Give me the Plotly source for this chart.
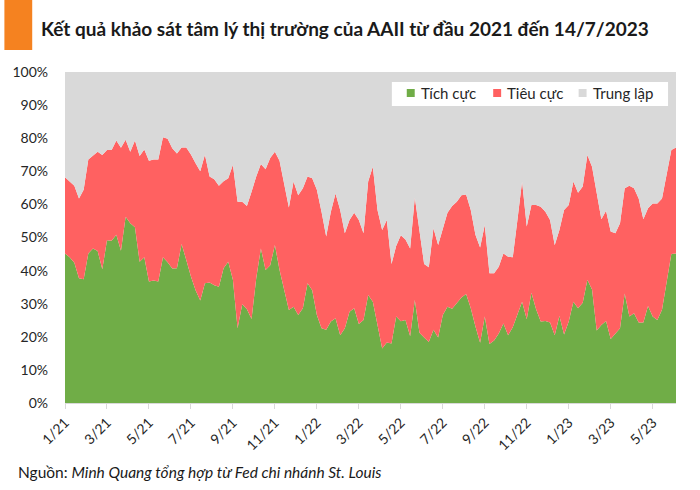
import pandas as pd
import plotly.graph_objects as go

# tuần khảo sát AAII (thứ Năm), 7/1/2021 -> 13/7/2023
weeks = pd.date_range("2021-01-07", periods=132, freq="7D").strftime("%Y-%m-%d").tolist()

tick_labels = ["1/21", "3/21", "5/21", "7/21", "9/21", "11/21", "1/22", "3/22",
               "5/22", "7/22", "9/22", "11/22", "1/23", "3/23", "5/23"]

bullish = [45.2, 44.0, 42.4, 37.7, 37.4, 45.2, 46.7, 45.9, 40.4, 49.2, 49.0, 50.8,
           46.0, 56.3, 54.3, 53.1, 42.7, 44.0, 36.7, 37.0, 36.7, 44.0, 42.5, 40.6,
           40.7, 48.0, 43.2, 38.2, 34.1, 31.0, 36.2, 36.4, 35.6, 35.1, 40.7, 42.7,
           37.2, 22.6, 29.8, 28.3, 25.4, 37.7, 46.7, 40.2, 41.6, 47.7, 40.2, 33.9,
           28.1, 29.1, 26.6, 28.6, 36.2, 34.1, 26.6, 22.6, 22.1, 24.6, 25.6, 20.5,
           22.6, 27.6, 28.6, 23.9, 25.1, 32.6, 30.6, 23.6, 16.5, 18.3, 18.0, 26.1,
           24.7, 25.1, 20.2, 31.1, 21.2, 19.8, 18.4, 22.1, 19.8, 26.6, 29.1, 28.5,
           30.3, 31.9, 32.9, 28.6, 23.1, 18.2, 26.1, 17.8, 18.9, 21.0, 24.0, 20.5,
           22.9, 27.1, 30.6, 25.3, 33.3, 28.3, 24.6, 24.8, 24.3, 20.5, 26.3, 20.7,
           24.6, 30.6, 28.6, 30.3, 37.2, 34.3, 21.9, 23.6, 24.8, 19.3, 21.0, 22.6,
           33.1, 26.1, 27.1, 24.3, 24.3, 29.3, 26.1, 25.1, 28.2, 37.2, 45.0, 45.2]

bearish = [23.0, 22.9, 23.2, 24.1, 27.0, 28.4, 28.1, 30.0, 34.5, 27.2, 27.4, 28.5,
           31.1, 23.2, 21.6, 26.2, 31.9, 32.6, 36.5, 36.6, 36.9, 36.3, 37.3, 36.4,
           34.7, 29.2, 34.0, 36.9, 38.3, 39.0, 38.8, 32.0, 32.0, 30.5, 26.3, 25.2,
           34.8, 38.2, 31.0, 31.2, 38.4, 30.7, 25.5, 30.4, 32.4, 28.2, 33.0, 32.0,
           31.0, 37.8, 36.2, 36.3, 32.2, 33.8, 37.8, 35.2, 28.2, 33.2, 37.7, 37.8,
           28.7, 27.7, 28.9, 31.4, 26.2, 34.3, 40.8, 34.7, 35.8, 37.0, 24.0, 21.3,
           26.0, 24.3, 26.5, 31.0, 31.1, 22.2, 22.6, 30.7, 27.9, 26.2, 28.4, 31.0,
           30.5, 30.9, 30.1, 29.7, 27.7, 28.8, 27.7, 21.4, 20.3, 20.2, 21.2, 23.7,
           21.1, 28.2, 36.3, 28.0, 26.5, 31.5, 34.7, 33.0, 31.0, 27.2, 26.0, 37.6,
           35.2, 36.3, 34.9, 35.1, 37.7, 37.1, 41.9, 31.9, 33.3, 32.5, 30.3, 31.7,
           31.8, 39.5, 37.8, 37.5, 31.2, 29.5, 34.2, 35.2, 33.6, 32.2, 31.4, 32.0]

neutral = [31.8, 33.1, 34.4, 38.2, 35.6, 26.4, 25.2, 24.1, 25.1, 23.6, 23.6, 20.7,
           22.9, 20.5, 24.1, 20.7, 25.4, 23.4, 26.8, 26.4, 26.4, 19.7, 20.2, 23.0,
           24.6, 22.8, 22.8, 24.9, 27.6, 30.0, 25.0, 31.6, 32.4, 34.4, 33.0, 32.1,
           28.0, 39.2, 39.2, 40.5, 36.2, 31.6, 27.8, 29.4, 26.0, 24.1, 26.8, 34.1,
           40.9, 33.1, 37.2, 35.1, 31.6, 32.1, 35.6, 42.2, 49.7, 42.2, 36.7, 41.7,
           48.7, 44.7, 42.5, 44.7, 48.7, 33.1, 28.6, 41.7, 47.7, 44.7, 58.0, 52.6,
           49.3, 50.6, 53.3, 37.9, 47.7, 58.0, 59.0, 47.2, 52.3, 47.2, 42.5, 40.5,
           39.2, 37.2, 37.0, 41.7, 49.2, 53.0, 46.2, 60.8, 60.8, 58.8, 54.8, 55.8,
           56.0, 44.7, 33.1, 46.7, 40.2, 40.2, 40.7, 42.2, 44.7, 52.3, 47.7, 41.7,
           40.2, 33.1, 36.5, 34.6, 25.1, 28.6, 36.2, 44.5, 41.9, 48.2, 48.7, 45.7,
           35.1, 34.4, 35.1, 38.2, 44.5, 41.2, 39.7, 39.7, 38.2, 30.6, 23.6, 22.8]

series = [("Tích cực", bullish, "#70AD47"),
          ("Tiêu cực", bearish, "#FF6161"),
          ("Trung lập", neutral, "#D9D9D9")]

FONT = "Lato"
L, R, T, B = 61, 676, 72, 403   # khung vẽ tính theo pixel


def px(x):
    return (x - L) / (R - L)


def py(y):
    return (B - y) / (B - T)


fig = go.Figure()
for name, vals, col in series:
    fig.add_trace(go.Scatter(x=weeks, y=vals, name=name, mode="lines",
                             stackgroup="one", line=dict(width=0, color=col),
                             fillcolor=col, hoverinfo="x+y+name"))

fig.update_layout(
    width=700, height=490,
    margin=dict(l=L, r=700 - R, t=T, b=490 - B),
    paper_bgcolor="white", plot_bgcolor="white",
    font=dict(family=FONT, size=14, color="#262626"),
    showlegend=False,
)
fig.update_xaxes(type="category", range=[0, len(weeks) - 1],
                 tickmode="array", tickvals=weeks[::9], ticktext=tick_labels,
                 tickangle=-45, ticks="outside", ticklen=5, tickcolor="#D9D9D9",
                 showline=True, linecolor="#D9D9D9", showgrid=False,
                 tickfont=dict(size=14))
fig.update_yaxes(range=[0, 100], dtick=10, ticksuffix="%", showgrid=False,
                 zeroline=False, ticklabelstandoff=16, tickfont=dict(size=14))

# chú giải vẽ tay
fig.add_shape(type="rect", xref="paper", yref="paper",
              x0=px(390), x1=px(668), y0=py(106), y1=py(82),
              fillcolor="white", line_width=0)
for (name, _, col), sx in zip(series, [405, 492, 578]):
    fig.add_shape(type="rect", xref="paper", yref="paper",
                  x0=px(sx), x1=px(sx + 8), y0=py(97), y1=py(89),
                  fillcolor=col, line_width=0)
    fig.add_annotation(text=name, xref="paper", yref="paper", x=px(sx + 12), y=py(93.5),
                       xanchor="left", yanchor="middle", showarrow=False,
                       font=dict(family=FONT, size=15, color="#262626"))

# khối màu cam và tiêu đề
fig.add_shape(type="rect", xref="paper", yref="paper",
              x0=px(0), x1=px(28), y0=py(50), y1=py(0),
              fillcolor="#F58220", line_width=0)
fig.add_annotation(text="<b>Kết quả khảo sát tâm lý thị trường của AAII từ đầu 2021 đến 14/7/2023</b>",
                   xref="paper", yref="paper", x=px(35), y=py(28),
                   xanchor="left", yanchor="middle", showarrow=False,
                   font=dict(family=FONT, size=19, color="#1a1a1a"))
fig.add_annotation(text="Nguồn: <i>Minh Quang tổng hợp từ Fed chi nhánh St. Louis</i>",
                   xref="paper", yref="paper", x=px(12), y=py(472),
                   xanchor="left", yanchor="middle", showarrow=False,
                   font=dict(family=FONT, size=15.5, color="#1a1a1a"))

fig.write_html("out.html", config={"displayModeBar": False},
               post_script="document.body.style.margin='0px';")
